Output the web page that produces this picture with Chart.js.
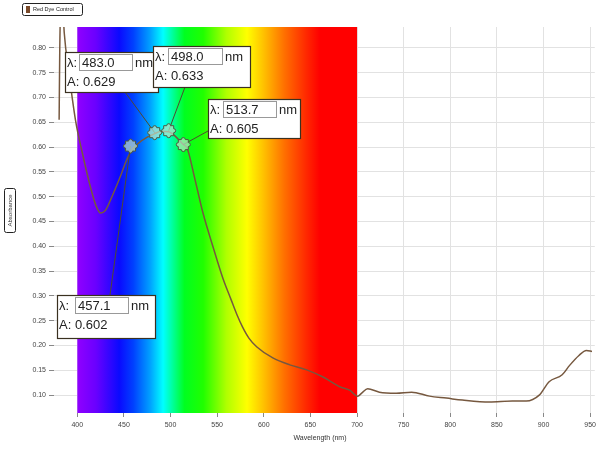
<!DOCTYPE html>
<html>
<head>
<meta charset="utf-8">
<script src="https://cdn.jsdelivr.net/npm/chart.js@4/dist/chart.umd.min.js"></script>
<style>
  html, body { margin: 0; padding: 0; background: #ffffff; }
  #wrap { width: 600px; height: 450px; }
</style>
</head>
<body>
<div id="wrap"><canvas id="c" width="600" height="450"></canvas></div>
<script>
// ---------------- DATA ----------------
const seriesName = 'Red Dye Control';
const wavelengths = [380.5, 381.2, 382.5, 384.5, 386, 391, 398, 405.4, 414, 420, 425, 430, 435.3, 446, 452, 457.1, 465, 475, 483, 490, 498, 505, 513.7, 517.7, 526.3, 534.8, 545.5, 556.2, 565, 571, 577, 584, 592.6, 609.7, 627.9, 646, 663, 681.4, 692, 700.7, 705, 711.4, 724, 742, 758.5, 777.7, 795.9, 813, 842, 866.6, 881.5, 895.4, 906, 920, 928, 938, 946, 952];
const absorbance  = [0.655, 0.80, 0.90, 0.88, 0.83, 0.75, 0.655, 0.588, 0.520, 0.482, 0.467, 0.472, 0.492, 0.540, 0.570, 0.590, 0.607, 0.620, 0.627, 0.632, 0.631, 0.622, 0.605, 0.598, 0.534, 0.467, 0.399, 0.335, 0.292, 0.263, 0.238, 0.215, 0.197, 0.175, 0.161, 0.151, 0.137, 0.117, 0.110, 0.098, 0.104, 0.113, 0.106, 0.104, 0.106, 0.098, 0.094, 0.090, 0.086, 0.088, 0.088, 0.100, 0.127, 0.141, 0.160, 0.180, 0.190, 0.188];
const xTicks = [400, 450, 500, 550, 600, 650, 700, 750, 800, 850, 900, 950];
const yTicks = [0.10, 0.15, 0.20, 0.25, 0.30, 0.35, 0.40, 0.45, 0.50, 0.55, 0.60, 0.65, 0.70, 0.75, 0.80];
const peakWavelengths = [457.1, 483.0, 498.0, 513.7];
const peakAbsorbances = [0.602, 0.629, 0.633, 0.605];
const spectrumStart = 400;
const spectrumEnd = 700;
const xTitle = 'Wavelength (nm)';
const yTitle = 'Absorbance';

// ---------------- LAYOUT / STYLE (not data) ----------------
const FONT = '"Liberation Sans", Arial, sans-serif';
// annotation boxes: [left, top, width, height, input-left, input-width, anchor-x, anchor-y]
const boxLayout = [
  [57, 295, 98, 43, 75, 53, 110, 295],
  [65, 52, 93, 40, 79, 53, 125, 92],
  [153, 46, 97, 41, 168, 54, 185, 87],
  [208, 99, 92, 39, 223, 53, 208, 131]
];
const rainbowStops = [
  [400, '#9000ff'], [420, '#6a00ff'], [445, '#0a0aff'], [460, '#0040ff'],
  [478, '#00a0ff'], [492, '#00ffff'], [505, '#00ff80'], [515, '#00ff20'],
  [535, '#20ff00'], [560, '#b0ff00'], [582, '#ffff00'], [600, '#ffc000'],
  [622, '#ff7000'], [645, '#ff2a00'], [660, '#ff0000'], [700, '#ff0000']
];

const spectrumPlugin = {
  id: 'spectrum',
  beforeDatasetsDraw(chart) {
    const {ctx, chartArea, scales} = chart;
    const x0 = scales.x.getPixelForValue(spectrumStart);
    const x1 = scales.x.getPixelForValue(spectrumEnd);
    const g = ctx.createLinearGradient(x0, 0, x1, 0);
    rainbowStops.forEach(([w, c]) => g.addColorStop((w - spectrumStart) / (spectrumEnd - spectrumStart), c));
    ctx.save();
    ctx.fillStyle = g;
    ctx.fillRect(x0, chartArea.top, x1 - x0, chartArea.bottom - chartArea.top);
    ctx.restore();
  }
};

function puzzle(ctx, cx, cy) {
  const s = 5;
  ctx.beginPath();
  ctx.moveTo(cx - s, cy - s);
  ctx.lineTo(cx - 2, cy - s);
  ctx.arc(cx, cy - s, 2, Math.PI, 0, false);
  ctx.lineTo(cx + s, cy - s);
  ctx.lineTo(cx + s, cy - 2);
  ctx.arc(cx + s, cy, 2, -Math.PI / 2, Math.PI / 2, false);
  ctx.lineTo(cx + s, cy + s);
  ctx.lineTo(cx + 2, cy + s);
  ctx.arc(cx, cy + s, 2, 0, Math.PI, false);
  ctx.lineTo(cx - s, cy + s);
  ctx.lineTo(cx - s, cy + 2);
  ctx.arc(cx - s, cy, 2, Math.PI / 2, -Math.PI / 2, false);
  ctx.closePath();
  ctx.fillStyle = 'rgba(190,225,200,0.7)';
  ctx.fill();
  ctx.strokeStyle = '#4d5a40';
  ctx.lineWidth = 1;
  ctx.stroke();
}

const annotPlugin = {
  id: 'annot',
  afterDatasetsDraw(chart) {
    const {ctx, scales} = chart;
    ctx.save();
    peakWavelengths.forEach((w, i) => {
      const px = scales.x.getPixelForValue(w);
      const py = scales.y.getPixelForValue(peakAbsorbances[i]);
      const [bx, by, bw, bh, ix, iw, ax, ay] = boxLayout[i];
      ctx.strokeStyle = '#4f4a30';
      ctx.lineWidth = 1;
      ctx.beginPath();
      ctx.moveTo(ax, ay);
      ctx.lineTo(px, py);
      ctx.stroke();
      puzzle(ctx, px, py);
    });
    peakWavelengths.forEach((w, i) => {
      const [bx, by, bw, bh, ix, iw] = boxLayout[i];
      ctx.fillStyle = '#ffffff';
      ctx.fillRect(bx, by, bw, bh);
      ctx.strokeStyle = '#3a3020';
      ctx.lineWidth = 1.2;
      ctx.strokeRect(bx + 0.5, by + 0.5, bw, bh);
      ctx.strokeStyle = '#999999';
      ctx.lineWidth = 1;
      ctx.strokeRect(ix + 0.5, by + 2.5, iw, 16);
      ctx.fillStyle = '#222222';
      ctx.font = '13px ' + FONT;
      ctx.textBaseline = 'alphabetic';
      ctx.textAlign = 'left';
      ctx.fillText('λ:', bx + 2, by + 15);
      ctx.fillText(w.toFixed(1), ix + 3, by + 15);
      ctx.fillText('nm', ix + iw + 3, by + 15);
      ctx.fillText('A: ' + peakAbsorbances[i].toFixed(3), bx + 2, by + 34);
    });
    ctx.restore();
  },
  afterDraw(chart) {
    const {ctx} = chart;
    ctx.save();
    ctx.strokeStyle = '#222';
    ctx.lineWidth = 1;
    ctx.beginPath();
    ctx.roundRect(22.5, 3.5, 60, 12, 2);
    ctx.stroke();
    ctx.fillStyle = '#7a4a2a';
    ctx.fillRect(26, 6, 4, 7);
    ctx.fillStyle = '#222';
    ctx.font = '5.5px ' + FONT;
    ctx.textBaseline = 'middle';
    ctx.textAlign = 'left';
    ctx.fillText(seriesName, 33, 9.8);
    ctx.font = '7px ' + FONT;
    ctx.textAlign = 'center';
    ctx.fillStyle = '#333';
    ctx.fillText(xTitle, 320, 438);
    ctx.beginPath();
    ctx.roundRect(4.5, 188.5, 11, 44, 2);
    ctx.stroke();
    ctx.translate(10, 210.5);
    ctx.rotate(-Math.PI / 2);
    ctx.font = '6px ' + FONT;
    ctx.fillText(yTitle, 0, 0);
    ctx.restore();
  }
};

new Chart(document.getElementById('c'), {
  type: 'line',
  data: {
    datasets: [{
      label: seriesName,
      data: wavelengths.map((x, i) => ({x: x, y: absorbance[i]})),
      borderColor: '#76583f',
      borderWidth: 1.5,
      pointRadius: 0,
      cubicInterpolationMode: 'monotone'
    }]
  },
  options: {
    responsive: false,
    animation: false,
    layout: { padding: { top: 27, right: 2, left: 0, bottom: 0 } },
    plugins: { legend: { display: false }, tooltip: { enabled: false } },
    scales: {
      x: {
        type: 'linear',
        min: 375, max: 955,
        afterBuildTicks: s => { s.ticks = xTicks.map(v => ({value: v})); },
        afterFit: s => { s.height = 37; },
        ticks: { font: { size: 7, family: FONT }, color: '#444', padding: 4, maxRotation: 0, autoSkip: false },
        grid: { color: '#e2e2e2', tickColor: '#888', tickLength: 4 },
        border: { display: false }
      },
      y: {
        min: 0.064, max: 0.842,
        afterBuildTicks: s => { s.ticks = yTicks.map(v => ({value: v})); },
        afterFit: s => { s.width = 54; },
        ticks: { font: { size: 7, family: FONT }, color: '#444', padding: 3, autoSkip: false, callback: v => v.toFixed(2) },
        grid: { color: '#e2e2e2', tickColor: '#888', tickLength: 5 },
        border: { display: false }
      }
    }
  },
  plugins: [spectrumPlugin, annotPlugin]
});
</script>
</body>
</html>
